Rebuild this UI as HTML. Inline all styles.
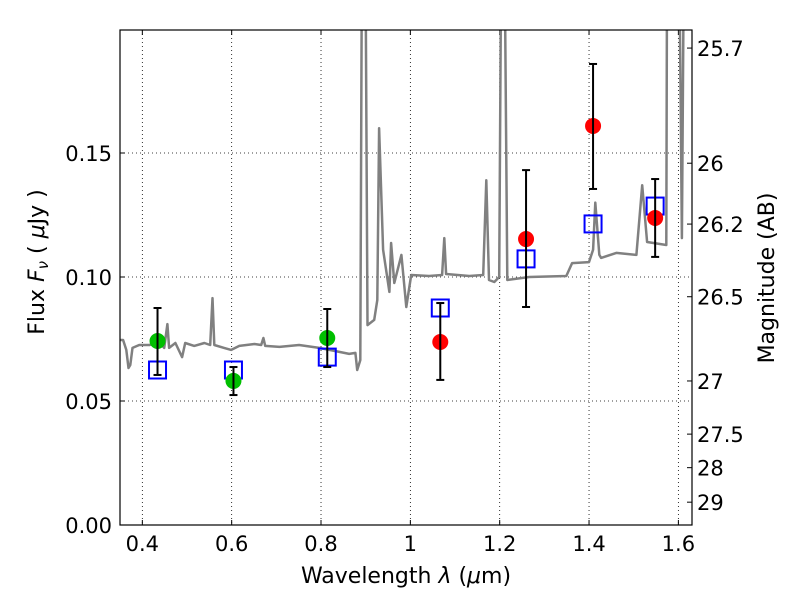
<!DOCTYPE html>
<html><head><meta charset="utf-8"><style>
body{margin:0;background:#fff;font-family:"Liberation Sans","DejaVu Sans",sans-serif}
svg text{font-family:"DejaVu Sans","Liberation Sans",sans-serif}
</style></head><body>
<svg id="c" width="800" height="600"></svg>
<script>
const specWave=[0.348,0.357,0.364,0.369,0.373,0.378,0.393,0.416,0.438,0.449,0.456,0.460,0.474,0.489,0.496,0.516,0.539,0.552,0.557,0.561,0.583,0.599,0.617,0.651,0.666,0.671,0.675,0.707,0.751,0.796,0.830,0.863,0.877,0.881,0.888,0.892,0.899,0.904,0.919,0.926,0.930,0.939,0.953,0.957,0.964,0.980,0.991,1.002,1.042,1.071,1.076,1.080,1.132,1.163,1.170,1.176,1.188,1.199,1.204,1.210,1.217,1.266,1.349,1.362,1.400,1.409,1.414,1.423,1.427,1.461,1.506,1.519,1.530,1.573,1.575,1.584,1.601,1.608,1.613,1.628];
const specFlux=[0.0746,0.0746,0.0706,0.0633,0.0645,0.0714,0.0726,0.0726,0.0738,0.0714,0.0810,0.0714,0.0734,0.0677,0.0734,0.0722,0.0734,0.0726,0.0915,0.0726,0.0714,0.0706,0.0722,0.0730,0.0726,0.0754,0.0722,0.0718,0.0726,0.0714,0.0702,0.0690,0.0694,0.0625,0.0665,0.25,0.25,0.0806,0.0827,0.0907,0.160,0.111,0.094,0.1137,0.0976,0.1089,0.0879,0.1008,0.1004,0.1008,0.1157,0.1012,0.1004,0.1008,0.139,0.0988,0.0980,0.1000,0.25,0.25,0.0988,0.1000,0.1004,0.1056,0.1060,0.111,0.130,0.109,0.1077,0.1097,0.1089,0.137,0.1141,0.1129,0.25,0.25,0.25,0.1157,0.25,0.25];
const greenWave=[0.434,0.604,0.814];
const greenFlux=[0.0742,0.0581,0.0754];
const greenHi=[0.0875,0.0637,0.0871];
const greenLo=[0.0605,0.0524,0.0637];
const redWave=[1.067,1.259,1.409,1.548];
const redFlux=[0.0738,0.1153,0.1609,0.1238];
const redHi=[0.0895,0.1431,0.1859,0.1395];
const redLo=[0.0585,0.0879,0.1355,0.1081];
const modelWave=[0.434,0.604,0.814,1.067,1.259,1.409,1.548];
const modelFlux=[0.0625,0.0625,0.0677,0.0875,0.1073,0.1214,0.1286];
const xTicks=[0.4,0.6,0.8,1.0,1.2,1.4,1.6];
const xTickLabels=["0.4","0.6","0.8","1","1.2","1.4","1.6"];
const yTicks=[0,0.05,0.10,0.15];
const yTickLabels=["0.00","0.05","0.10","0.15"];
const magTicks=[25.7,26,26.2,26.5,27,27.5,28,29];
const magTickLabels=["25.7","26","26.2","26.5","27","27.5","28","29"];

const L=120,R=692,T=30,B=525;
const X0=0.35,X1=0.35+(R-L)/446.7,Y0=0,Y1=(B-T)/2480;
const sx=v=>L+(v-X0)/(X1-X0)*(R-L);
const sy=v=>B-(v-Y0)/(Y1-Y0)*(B-T);
const magToFlux=m=>Math.pow(10,(23.91-m)/2.5);
const svg=document.getElementById('c');
const NS='http://www.w3.org/2000/svg';
function mk(tag,at,parent){const e=document.createElementNS(NS,tag);for(const k in at)e.setAttribute(k,at[k]);(parent||svg).appendChild(e);return e;}
function txt(s,at){const e=mk('text',at);e.textContent=s;return e;}

const defs=mk('defs',{});
const cp=mk('clipPath',{id:'clip'},defs);mk('rect',{x:L,y:T,width:R-L,height:B-T},cp);

xTicks.forEach((v,i)=>{
  const g=mk('line',{x1:sx(v),x2:sx(v),y1:T,y2:B,stroke:'#000','stroke-width':0.8,'stroke-dasharray':'1,3'});
  
  
  const tk=mk('line',{x1:sx(v),x2:sx(v),y1:B,y2:B-5,stroke:'#000'});
  
  
  mk('line',{x1:sx(v),x2:sx(v),y1:T,y2:T+5,stroke:'#000'});
  const t=txt(xTickLabels[i],{x:sx(v),y:B+26,'font-size':21,'text-anchor':'middle'});
  
  
});
yTicks.forEach((v,i)=>{
  if(v>0){const g=mk('line',{x1:L,x2:R,y1:sy(v),y2:sy(v),stroke:'#000','stroke-width':0.8,'stroke-dasharray':'1,3'});
  
  }
  mk('line',{x1:L,x2:L+5,y1:sy(v),y2:sy(v),stroke:'#000'});
  const t=txt(yTickLabels[i],{x:L-8,y:sy(v)+8,'font-size':21,'text-anchor':'end'});
  
  
});
magTicks.forEach((m,i)=>{
  const y=sy(magToFlux(m));
  mk('line',{x1:R,x2:R-5,y1:y,y2:y,stroke:'#000'});
  const t=txt(magTickLabels[i],{x:R+5,y:y+8,'font-size':21});
  
  
});

const g=mk('g',{'clip-path':'url(#clip)'});
const d=specWave.map((w,i)=>(i?'L':'M')+sx(w).toFixed(1)+','+sy(specFlux[i]).toFixed(1)).join(' ');
const sp=mk('path',{d:d,fill:'none',stroke:'#808080','stroke-width':2.5,'stroke-linejoin':'round'},g);



function errbar(w,lo,hi){
  const x=sx(w);
  mk('line',{x1:x,x2:x,y1:sy(lo),y2:sy(hi),stroke:'#000','stroke-width':2},g);
  mk('line',{x1:x-4,x2:x+4,y1:sy(lo),y2:sy(lo),stroke:'#000','stroke-width':2},g);
  mk('line',{x1:x-4,x2:x+4,y1:sy(hi),y2:sy(hi),stroke:'#000','stroke-width':2},g);
}
modelWave.forEach((w,i)=>{
  const r=mk('rect',{x:sx(w)-8.5,y:sy(modelFlux[i])-8.5,width:17,height:17,fill:'none',stroke:'#0000ff','stroke-width':2},g);
  
  
});
greenWave.forEach((w,i)=>{
  const c=mk('circle',{cx:sx(w),cy:sy(greenFlux[i]),r:8,fill:'#00bf00'},g);
  
  
  errbar(w,greenLo[i],greenHi[i]);
});
redWave.forEach((w,i)=>{
  const c=mk('circle',{cx:sx(w),cy:sy(redFlux[i]),r:8,fill:'#ff0000'},g);
  
  
  errbar(w,redLo[i],redHi[i]);
});

const fr=mk('rect',{x:L,y:T,width:R-L,height:B-T,fill:'none',stroke:'#000','stroke-width':1.2});



const xl=txt('',{x:406,y:583,'font-size':22,'text-anchor':'middle'});
xl.innerHTML='Wavelength  <tspan font-style="italic">λ</tspan> (<tspan font-style="italic">μ</tspan>m)';


const yl=txt('',{transform:'translate(44,262) rotate(-90)','font-size':22,'text-anchor':'middle'});
yl.innerHTML='Flux  <tspan font-style="italic">F</tspan><tspan font-style="italic" font-size="15" dy="4">ν</tspan><tspan dy="-4">  (  </tspan><tspan font-style="italic">μ</tspan>Jy )';


const yr=txt('Magnitude (AB)',{transform:'translate(774,278) rotate(-90)','font-size':22,'text-anchor':'middle'});


</script>
</body></html>
